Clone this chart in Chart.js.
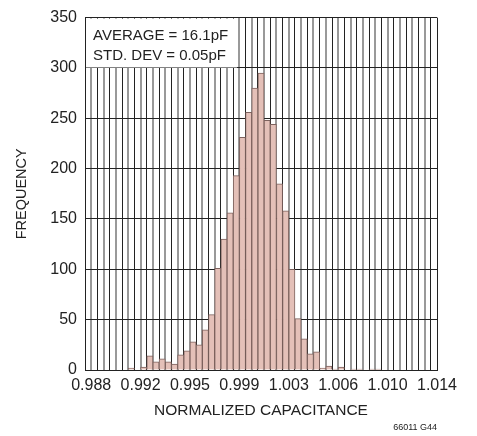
<!DOCTYPE html>
<html>
<head>
<meta charset="utf-8">
<script src="https://cdn.jsdelivr.net/npm/chart.js@4.4.0/dist/chart.umd.min.js"></script>
<style>
	body { margin: 0; background: #fff; }
	#wrap { width: 477px; height: 436px; position: relative; }
</style>
</head>
<body>
<div id="wrap"><canvas id="hist"></canvas></div>
<script>
// one bin every ~0.000464 (0.0075pF / 16.1pF), 57 bins
var counts = [0, 0, 0, 0, 0, 0, 0, 2, 0, 3,
	14, 8, 11, 8, 6, 15, 19, 28, 25, 40,
	55, 101, 130, 156, 193, 231, 256, 280, 295, 248,
	244, 185, 158, 100, 51, 31, 16, 18, 2, 4,
	1, 3, 0, 1, 1, 0, 1, 1, 0, 0,
	0, 0, 0, 0, 0, 0, 0];
// tick labels sit on bin edges 1, 9, 17 ... 57
var tickLabels = ['0.988', '0.992', '0.995', '0.999', '1.003', '1.006', '1.010', '1.014'];
var yTicks = [0, 50, 100, 150, 200, 250, 300, 350];
var notes = ['AVERAGE = 16.1pF', 'STD. DEV = 0.05pF'];
var xTitle = 'NORMALIZED CAPACITANCE';
var yTitle = 'FREQUENCY';
var figId = '66011 G44';

var FONT = "'Liberation Sans', Arial, sans-serif";

var points = [];
for (var i = 0; i < counts.length; i++) {
	points.push({ x: i + 0.5, y: counts[i] });
}

var notePlugin = {
	id: 'notes',
	afterDraw: function(chart) {
		var c = chart.ctx;
		var a = chart.chartArea;
		var y300 = chart.scales.y.getPixelForValue(300);
		c.save();
		c.fillStyle = '#fff';
		c.fillRect(a.left + 1, a.top + 1, 151, y300 - a.top - 1.5);
		c.fillStyle = '#222';
		c.font = '15px ' + FONT;
		c.textBaseline = 'alphabetic';
		c.fillText(notes[0], a.left + 8, 40);
		c.fillText(notes[1], a.left + 8, 60);
		c.font = '9px ' + FONT;
		c.textAlign = 'right';
		c.fillText(figId, a.right, 430);
		c.restore();
	}
};

var ctx = document.getElementById('hist');
var histChart = new Chart(ctx, {
	type: 'bar',
	data: {
		datasets: [{
			data: points,
			backgroundColor: '#e4c0b8',
			borderColor: '#7d625e',
			borderWidth: 1,
			barPercentage: 1,
			categoryPercentage: 1
		}]
	},
	options: {
		responsive: true,
		maintainAspectRatio: false,
		animation: false,
		layout: { padding: { left: 0, top: 17, right: 40, bottom: 16 } },
		plugins: {
			legend: { display: false },
			tooltip: { enabled: false }
		},
		scales: {
			x: {
				type: 'linear',
				min: 0,
				max: counts.length,
				offset: false,
				z: 1,
				grid: {
					offset: false,
					drawTicks: false,
					color: function(c) {
						var v = c.tick ? c.tick.value : 0;
						if (v === 0 || v === counts.length) return '#222';
						return v % 2 === 0 ? '#222' : '#999';
					},
					lineWidth: function(c) {
						var v = c.tick ? c.tick.value : 0;
						return (v % 2 === 0 || v === counts.length) ? 1 : 2;
					}
				},
				border: { color: '#222', width: 1 },
				ticks: {
					stepSize: 1,
					autoSkip: false,
					maxTicksLimit: 100,
					maxRotation: 0,
					padding: 6,
					color: '#222',
					font: { family: FONT, size: 16 },
					callback: function(v) {
						return (v - 1) % 8 === 0 ? tickLabels[(v - 1) / 8] : '';
					}
				},
				title: {
					display: true,
					text: xTitle,
					color: '#222',
					font: { family: FONT, size: 15.5 },
					padding: { top: 2, bottom: 0 }
				},
				afterFit: function(s) { s.height = 50; }
			},
			y: {
				min: 0,
				max: 350,
				grid: { color: '#222', lineWidth: 1, drawTicks: false },
				border: { color: '#222', width: 1 },
				afterBuildTicks: function(s) {
					s.ticks = yTicks.map(function(v) { return { value: v }; });
				},
				ticks: {
					padding: 8,
					color: '#222',
					font: { family: FONT, size: 16 }
				},
				title: {
					display: true,
					text: yTitle,
					color: '#222',
					font: { family: FONT, size: 14.5 },
					padding: { top: 13, bottom: 0 }
				},
				afterFit: function(s) { s.width = 85; }
			}
		}
	},
	plugins: [notePlugin]
});
</script>
</body>
</html>
